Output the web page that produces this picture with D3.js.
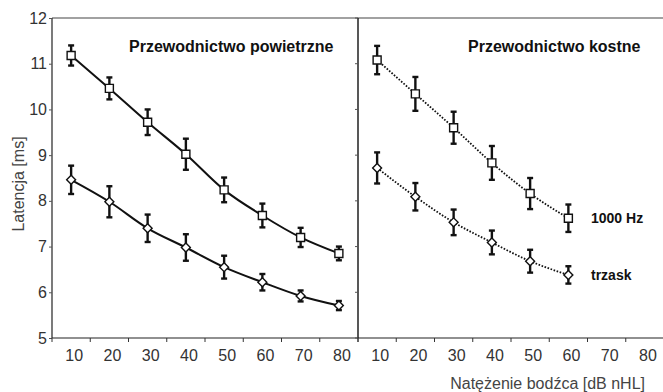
<!DOCTYPE html>
<html>
<head>
<meta charset="utf-8">
<script src="https://cdn.jsdelivr.net/npm/d3@7"></script>
<style>
  body { margin: 0; background: #fff; }
  svg { display: block; font-family: "Liberation Sans", Arial, sans-serif; }
</style>
</head>
<body>
<div class="graph"></div>
<script>
// dose levels (dB nHL)
var doses = [10, 20, 30, 40, 50, 60, 70, 80];
var yTicks = [5, 6, 7, 8, 9, 10, 11, 12];

// air conduction
var airTone = [11.18, 10.46, 9.72, 9.02, 8.24, 7.68, 7.2, 6.85];
var airToneErr = [0.22, 0.24, 0.28, 0.34, 0.27, 0.26, 0.21, 0.15];
var airClick = [8.46, 7.98, 7.4, 6.98, 6.55, 6.22, 5.92, 5.71];
var airClickErr = [0.31, 0.34, 0.3, 0.29, 0.25, 0.18, 0.12, 0.1];

// bone conduction (only up to 60)
var boneDoses = [10, 20, 30, 40, 50, 60];
var boneTone = [11.08, 10.34, 9.6, 8.83, 8.16, 7.62];
var boneToneErr = [0.31, 0.37, 0.35, 0.37, 0.34, 0.3];
var boneClick = [8.72, 8.09, 7.53, 7.09, 6.68, 6.38];
var boneClickErr = [0.34, 0.3, 0.28, 0.26, 0.25, 0.19];

var width = 663;
var height = 392;
var plotTop = 18, plotBottom = 338, plotLeft = 52, plotMid = 358, plotRight = 664;

var svg = d3.select(".graph").append("svg")
  .attr("width", width)
  .attr("height", height);

var y = d3.scaleLinear().domain([5, 12]).range([plotBottom, plotTop]);
var xL = d3.scaleBand().domain(doses).range([plotLeft, plotMid]);
var xR = d3.scaleBand().domain(doses).range([plotMid, plotRight]);

// frame
svg.append("line").attr("x1", plotLeft).attr("x2", plotRight).attr("y1", plotTop).attr("y2", plotTop)
  .attr("stroke", "#444").attr("stroke-width", 1.2);
svg.append("line").attr("x1", plotLeft).attr("x2", plotRight).attr("y1", plotBottom).attr("y2", plotBottom)
  .attr("stroke", "#222").attr("stroke-width", 1.2);
svg.append("line").attr("x1", plotLeft).attr("x2", plotLeft).attr("y1", plotTop).attr("y2", plotBottom)
  .attr("stroke", "#222").attr("stroke-width", 1.2);
svg.append("line").attr("x1", plotMid).attr("x2", plotMid).attr("y1", plotTop).attr("y2", plotBottom)
  .attr("stroke", "#111").attr("stroke-width", 1.4);

// y axis
var yAxisGroup = svg.append("g").attr("transform", "translate(" + plotLeft + ",0)");
yAxisGroup.call(d3.axisLeft(y).tickValues(yTicks).tickFormat(d3.format("d"))
  .tickSize(3).tickPadding(2).tickSizeOuter(0));
yAxisGroup.select(".domain").remove();

// small ticks on the divider, pointing into the left panel
svg.append("g").selectAll("line").data(yTicks).enter().append("line")
  .attr("x1", plotMid - 3).attr("x2", plotMid)
  .attr("y1", function (d) { return y(d); })
  .attr("y2", function (d) { return y(d); })
  .attr("stroke", "#555");

// x axes
[xL, xR].forEach(function (x) {
  var g = svg.append("g").attr("transform", "translate(0," + plotBottom + ")");
  g.call(d3.axisBottom(x).tickSize(0).tickPadding(12));
  g.select(".domain").remove();
  g.selectAll("text").attr("dx", 3);
  var edges = doses.map(function (d) { return x(d); }).concat([x.range()[1]]);
  g.selectAll("line.edge").data(edges).enter().append("line")
    .attr("class", "edge")
    .attr("x1", function (d) { return d; }).attr("x2", function (d) { return d; })
    .attr("y1", 0).attr("y2", 4)
    .attr("stroke", "#333");
});

svg.selectAll(".tick text")
  .attr("font-size", 16)
  .attr("font-family", "Liberation Sans, Arial, sans-serif")
  .attr("fill", "#333");
svg.selectAll(".tick line").attr("stroke", "#555");

// series drawing
function drawSeries(x, xs, values, errs, shape, dotted) {
  var pts = xs.map(function (d, i) {
    return {cx: x(d) + x.bandwidth() / 2, v: values[i], e: errs[i]};
  });

  var line = d3.line()
    .curve(d3.curveMonotoneX)
    .x(function (d) { return d.cx; })
    .y(function (d) { return y(d.v); });

  svg.append("path")
    .datum(pts)
    .attr("fill", "none")
    .attr("stroke", "#111")
    .attr("stroke-width", dotted ? 1.8 : 2)
    .attr("stroke-dasharray", dotted ? "1.6,1.6" : null)
    .attr("d", line);

  var eb = svg.append("g");
  pts.forEach(function (p) {
    eb.append("line")
      .attr("x1", p.cx).attr("x2", p.cx)
      .attr("y1", y(p.v + p.e)).attr("y2", y(p.v - p.e))
      .attr("stroke", "#111").attr("stroke-width", 2.4);
    [p.v + p.e, p.v - p.e].forEach(function (v) {
      eb.append("line")
        .attr("x1", p.cx - 3).attr("x2", p.cx + 3)
        .attr("y1", y(v)).attr("y2", y(v))
        .attr("stroke", "#111").attr("stroke-width", 2.4);
    });
  });

  svg.append("g").selectAll("path").data(pts).enter().append("path")
    .attr("d", shape === "square"
      ? d3.symbol().type(d3.symbolSquare).size(64)
      : d3.symbol().type(d3.symbolSquare).size(40))
    .attr("transform", function (d) {
      return "translate(" + d.cx + "," + y(d.v) + ")" + (shape === "square" ? "" : " rotate(45)");
    })
    .attr("fill", "#fff")
    .attr("stroke", "#111")
    .attr("stroke-width", 1.4);
}

drawSeries(xL, doses, airTone, airToneErr, "square", false);
drawSeries(xL, doses, airClick, airClickErr, "diamond", false);
drawSeries(xR, boneDoses, boneTone, boneToneErr, "square", true);
drawSeries(xR, boneDoses, boneClick, boneClickErr, "diamond", true);

// panel titles
svg.append("text").attr("x", 129).attr("y", 52)
  .attr("font-size", 16).attr("font-weight", "bold").attr("fill", "#111")
  .text("Przewodnictwo powietrzne");
svg.append("text").attr("x", 468).attr("y", 52)
  .attr("font-size", 16).attr("font-weight", "bold").attr("fill", "#111")
  .text("Przewodnictwo kostne");

// series labels
svg.append("text").attr("x", 591).attr("y", y(boneTone[5]) + 5)
  .attr("font-size", 14).attr("font-weight", "bold").attr("fill", "#111")
  .text("1000 Hz");
svg.append("text").attr("x", 591).attr("y", y(boneClick[5]) + 5)
  .attr("font-size", 14).attr("font-weight", "bold").attr("fill", "#111")
  .text("trzask");

// axis titles
svg.append("text")
  .attr("transform", "translate(18," + ((plotTop + plotBottom) / 2 + 6) + ") rotate(-90)")
  .attr("text-anchor", "middle").attr("dy", "0.35em")
  .attr("font-size", 16).attr("fill", "#444")
  .text("Latencja [ms]");
svg.append("text").attr("x", 645).attr("y", 389)
  .attr("text-anchor", "end")
  .attr("font-size", 16).attr("fill", "#444")
  .text("Natężenie bodźca [dB nHL]");
</script>
</body>
</html>
